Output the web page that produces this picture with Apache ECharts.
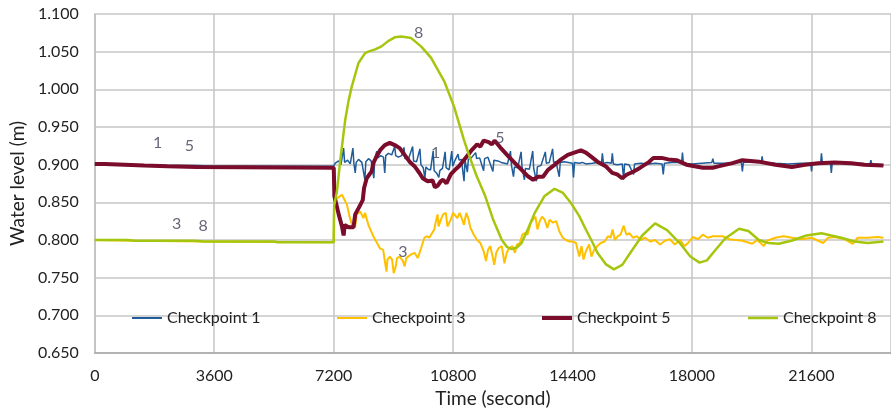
<!DOCTYPE html>
<html>
<head>
<meta charset="utf-8">
<script src="https://cdn.jsdelivr.net/npm/echarts@6/dist/echarts.min.js"></script>
<style>
html,body{margin:0;padding:0;background:#fff;}
#chart{width:891px;height:414px;}
</style>
</head>
<body>
<div id="chart"></div>
<script>
const seriesNames = ['Checkpoint 1', 'Checkpoint 3', 'Checkpoint 5', 'Checkpoint 8'];

const cp1 = [
[0,0.900],[600,0.900],[2000,0.899],[3100,0.899],[3600,0.898],[7200,0.898],
[7250,0.902],[7350,0.905],[7420,0.900],[7500,0.922],[7530,0.903],[7620,0.906],[7700,0.901],[7780,0.922],[7810,0.902],
[7850,0.889],[7880,0.903],[7950,0.907],[8050,0.903],[8140,0.880],[8170,0.904],[8250,0.908],[8330,0.905],[8410,0.882],
[8440,0.908],[8500,0.918],[8530,0.909],[8620,0.912],[8700,0.910],[8740,0.889],[8770,0.912],[8850,0.915],[8950,0.913],
[9040,0.924],[9070,0.912],[9150,0.910],[9250,0.912],[9320,0.923],[9350,0.908],[9450,0.907],[9580,0.924],[9610,0.905],
[9700,0.904],[9800,0.921],[9830,0.900],[9900,0.896],[9950,0.882],[9980,0.897],[10050,0.894],[10120,0.893],[10200,0.918],
[10230,0.892],[10300,0.889],[10370,0.883],[10400,0.892],[10480,0.895],[10560,0.917],[10590,0.896],[10680,0.893],
[10760,0.918],[10790,0.898],[10850,0.905],[10950,0.914],[10980,0.906],[11050,0.907],[11130,0.878],[11160,0.906],
[11230,0.890],[11260,0.907],[11350,0.909],[11480,0.916],[11510,0.908],[11600,0.909],[11720,0.892],[11750,0.908],
[11850,0.910],[12000,0.891],[12030,0.906],[12150,0.905],[12250,0.903],[12350,0.902],[12440,0.901],[12530,0.918],
[12560,0.899],[12620,0.884],[12650,0.897],[12750,0.896],[12850,0.917],[12880,0.896],[12950,0.880],[12980,0.895],
[13100,0.894],[13200,0.918],[13230,0.895],[13310,0.878],[13340,0.897],[13450,0.899],[13580,0.917],[13610,0.902],
[13700,0.903],[13800,0.921],[13830,0.903],[13900,0.904],[14000,0.884],[14030,0.903],[14150,0.904],[14400,0.902],
[14430,0.883],[14460,0.903],[14600,0.902],[14700,0.903],[14800,0.901],[15000,0.902],[15150,0.903],[15270,0.901],
[15300,0.915],[15330,0.902],[15450,0.903],[15570,0.902],[15600,0.915],[15630,0.901],[15750,0.900],[15900,0.901],
[15940,0.880],[15970,0.901],[16100,0.900],[16240,0.887],[16270,0.901],[16450,0.902],[16700,0.901],[16900,0.902],
[17100,0.901],[17135,0.887],[17170,0.902],[17400,0.903],[17690,0.903],[17714,0.916],[17740,0.902],[18000,0.901],
[18300,0.902],[18600,0.903],[18630,0.908],[18660,0.902],[19000,0.902],[19300,0.903],[19490,0.903],[19520,0.891],
[19550,0.903],[19800,0.904],[20090,0.903],[20116,0.911],[20140,0.903],[20500,0.902],[20900,0.901],[21300,0.902],
[21580,0.902],[21605,0.891],[21630,0.902],[21880,0.902],[21903,0.915],[21930,0.903],[22175,0.903],[22201,0.889],
[22230,0.903],[22600,0.902],[23000,0.902],[23370,0.901],[23393,0.906],[23420,0.901],[23772,0.900]
];

const cp3 = [
[0,0.800],[1200,0.799],[3300,0.798],[7200,0.797],[7215,0.855],
[7322,0.856],[7451,0.860],[7600,0.847],[7680,0.831],[7779,0.816],[7849,0.818],[7898,0.834],[7998,0.838],[8097,0.829],
[8147,0.836],[8196,0.834],[8246,0.820],[8395,0.805],[8594,0.789],[8693,0.787],[8743,0.772],[8792,0.758],[8822,0.774],
[8892,0.778],[8961,0.774],[9011,0.756],[9071,0.765],[9110,0.776],[9190,0.778],[9289,0.772],[9339,0.765],[9388,0.776],
[9537,0.781],[9637,0.783],[9736,0.776],[9835,0.789],[9935,0.803],[10004,0.805],[10084,0.803],[10163,0.809],[10233,0.814],
[10282,0.825],[10332,0.834],[10362,0.818],[10431,0.827],[10501,0.834],[10580,0.836],[10630,0.818],[10729,0.827],
[10799,0.836],[10858,0.838],[10928,0.829],[10998,0.836],[11077,0.827],[11127,0.820],[11196,0.836],[11256,0.829],
[11325,0.816],[11425,0.807],[11524,0.800],[11623,0.796],[11723,0.785],[11792,0.772],[11852,0.787],[11921,0.792],
[11991,0.778],[12040,0.767],[12100,0.783],[12170,0.789],[12269,0.792],[12348,0.769],[12418,0.783],[12487,0.789],
[12587,0.792],[12666,0.783],[12726,0.794],[12815,0.796],[12885,0.807],[12964,0.809],[13044,0.807],[13143,0.823],
[13213,0.827],[13282,0.831],[13342,0.814],[13411,0.825],[13481,0.831],[13560,0.827],[13640,0.816],[13709,0.827],
[13808,0.823],[13908,0.825],[14007,0.811],[14107,0.803],[14206,0.800],[14305,0.798],[14405,0.798],[14504,0.796],
[14603,0.778],[14673,0.792],[14732,0.774],[14802,0.785],[14901,0.794],[14971,0.778],[15050,0.787],[15150,0.792],
[15249,0.796],[15368,0.798],[15468,0.805],[15547,0.803],[15607,0.814],[15676,0.800],[15766,0.805],[15845,0.807],
[15944,0.819],[16024,0.807],[16123,0.809],[16222,0.803],[16342,0.805],[16461,0.800],[16590,0.803],[16739,0.798],
[16888,0.800],[17037,0.794],[17186,0.799],[17335,0.801],[17484,0.794],[17633,0.800],[17782,0.792],[17881,0.796],
[18030,0.804],[18179,0.801],[18328,0.807],[18477,0.803],[18627,0.805],[18924,0.805],[19123,0.801],[19520,0.799],
[19818,0.795],[19967,0.800],[20166,0.792],[20265,0.799],[20514,0.803],[20762,0.805],[21010,0.803],[21308,0.801],
[21606,0.803],[21954,0.796],[22103,0.803],[22302,0.804],[22600,0.801],[22848,0.795],[22997,0.803],[23295,0.803],
[23593,0.804],[23772,0.803]
];

const cp5 = [
[0,0.901],[301,0.901],[310,0.899],[1490,0.899],[1500,0.898],[2186,0.898],[2195,0.897],[3080,0.897],[3090,0.896],
[7203,0.896],[7223,0.858],[7352,0.834],[7451,0.818],[7501,0.806],[7531,0.820],[7650,0.817],[7799,0.817],[7849,0.834],
[7948,0.842],[8077,0.853],[8117,0.869],[8196,0.882],[8345,0.891],[8395,0.902],[8494,0.911],[8614,0.920],[8743,0.926],
[8892,0.929],[9041,0.926],[9190,0.922],[9339,0.913],[9488,0.904],[9637,0.898],[9786,0.889],[9885,0.882],[10034,0.878],
[10183,0.879],[10252,0.870],[10332,0.872],[10431,0.878],[10501,0.880],[10600,0.875],[10729,0.887],[10878,0.894],
[10978,0.898],[11176,0.909],[11375,0.920],[11524,0.927],[11623,0.924],[11723,0.932],[11872,0.930],[11971,0.927],
[12050,0.932],[12219,0.923],[12468,0.911],[12666,0.902],[12865,0.893],[13044,0.885],[13213,0.880],[13362,0.884],
[13511,0.884],[13660,0.893],[13808,0.898],[14057,0.907],[14256,0.913],[14454,0.916],[14653,0.919],[14802,0.916],
[14951,0.911],[15150,0.904],[15398,0.898],[15597,0.889],[15746,0.887],[15895,0.882],[16044,0.887],[16242,0.891],
[16441,0.896],[16689,0.903],[16838,0.909],[17087,0.909],[17285,0.907],[17534,0.906],[17832,0.900],[18080,0.898],
[18328,0.896],[18627,0.896],[18825,0.898],[19222,0.902],[19520,0.906],[20017,0.904],[20514,0.900],[21010,0.897],
[21408,0.900],[21805,0.902],[22302,0.903],[22798,0.902],[23194,0.900],[23772,0.899]
];

const cp8 = [
[0,0.800],[1000,0.800],[1200,0.799],[3000,0.799],[3300,0.798],[5400,0.798],[5500,0.797],[7200,0.797],
[7215,0.845],[7300,0.865],[7402,0.907],[7551,0.960],[7650,0.985],[7748,1.004],[7948,1.035],[8147,1.048],[8245,1.050],
[8450,1.053],[8642,1.057],[8842,1.064],[9040,1.069],[9238,1.070],[9536,1.068],[9834,1.057],[10132,1.042],[10531,1.011],
[10829,0.977],[11127,0.933],[11277,0.913],[11500,0.886],[11771,0.858],[12000,0.828],[12269,0.800],[12420,0.791],
[12567,0.788],[12720,0.790],[12865,0.796],[13060,0.815],[13261,0.836],[13550,0.858],[13857,0.868],[14100,0.863],
[14355,0.849],[14600,0.832],[14802,0.814],[15000,0.797],[15150,0.783],[15400,0.768],[15645,0.761],[15900,0.767],
[16143,0.783],[16500,0.806],[16888,0.822],[17250,0.813],[17633,0.796],[17950,0.778],[18229,0.770],[18450,0.773],
[18676,0.785],[19000,0.802],[19421,0.815],[19700,0.812],[20017,0.800],[20300,0.796],[20613,0.795],[21000,0.799],
[21450,0.806],[21903,0.809],[22200,0.806],[22499,0.803],[22900,0.798],[23294,0.796],[23772,0.798]
];

const pointLabels = [
[1898,0.929,'1'],[2852,0.925,'5'],[2464,0.822,'3'],[3269,0.819,'8'],
[10272,0.916,'1'],[12209,0.935,'5'],[9289,0.784,'3'],[9765,1.075,'8']
];

const colors = ['#1f5c99', '#ffc000', '#7b0c2c', '#a5c60f'];
const widths = [1.5, 2, 4, 2.5];
const seriesData = [cp1, cp3, cp5, cp8];
const legendLeft = [127, 332, 537, 743];
const FONT = 'Lato';

const chart = echarts.init(document.getElementById('chart'), null, {renderer: 'canvas'});

const series = seriesNames.map((n, i) => ({
  name: n, type: 'line', data: seriesData[i], showSymbol: false, symbol: 'none',
  lineStyle: {color: colors[i], width: widths[i]}, itemStyle: {color: colors[i]},
  animation: false, z: 2 + i
}));
series.push({
  name: 'labels', type: 'scatter', data: pointLabels, symbolSize: 1,
  itemStyle: {color: 'rgba(0,0,0,0)'}, silent: true, animation: false, z: 10,
  label: {show: true, position: 'inside', formatter: p => p.value[2],
    color: '#404058', fontFamily: FONT, fontSize: 16}
});

const option = {
  backgroundColor: '#fff',
  animation: false,
  grid: {left: 93, right: -7, top: 14, bottom: 61, containLabel: false},
  legend: seriesNames.map((n, i) => ({
    data: [{name: n, icon: 'rect', itemStyle: {color: colors[i]}}],
    left: legendLeft[i], top: 313 - 8, itemWidth: 30, itemHeight: widths[i] < 2 ? 2 : widths[i],
    itemGap: 3, height: 16,
    textStyle: {fontFamily: FONT, fontSize: 16, color: '#222', lineHeight: 16}, selectedMode: false
  })),
  xAxis: {
    type: 'value', min: 0, max: 24000, interval: 3600,
    name: 'Time (second)', nameLocation: 'middle', nameGap: 33,
    nameTextStyle: {fontFamily: FONT, fontSize: 19, color: '#222'},
    axisLine: {show: true, lineStyle: {color: '#a6a6a6', width: 1.5}},
    axisTick: {show: false},
    axisLabel: {fontFamily: FONT, fontSize: 16, color: '#222', margin: 15, showMaxLabel: false,
      formatter: v => String(v)},
    splitLine: {show: true, lineStyle: {color: '#c6c6c6', width: 1.5}}
  },
  yAxis: {
    type: 'value', min: 0.65, max: 1.1, interval: 0.05,
    name: 'Water level (m)', nameLocation: 'middle', nameGap: 64, nameRotate: 90,
    nameTextStyle: {fontFamily: FONT, fontSize: 19, color: '#222'},
    axisLine: {show: true, lineStyle: {color: '#bfbfbf', width: 1.5}},
    axisTick: {show: false},
    axisLabel: {fontFamily: FONT, fontSize: 16, color: '#222', margin: 16,
      formatter: v => v.toFixed(3)},
    splitLine: {show: true, lineStyle: {color: '#c6c6c6', width: 1.5}}
  },
  series: series
};
chart.setOption(option);
</script>
</body>
</html>
